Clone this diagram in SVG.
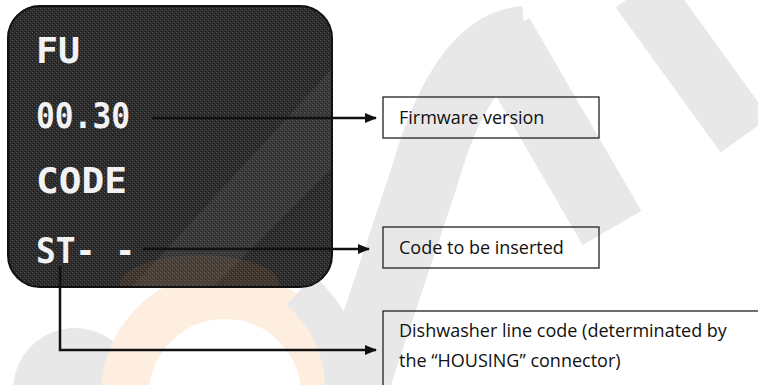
<svg xmlns="http://www.w3.org/2000/svg" width="758" height="385" viewBox="0 0 758 385">
  <defs>
    <marker id="ah" markerWidth="12" markerHeight="10" refX="11" refY="5" orient="auto" markerUnits="userSpaceOnUse">
      <path d="M0,0 L12,5 L0,10 Z" fill="#111"/>
    </marker>
    <clipPath id="panelClip">
      <rect x="8" y="6" width="324" height="281" rx="32" ry="32"/>
    </clipPath>
    <pattern id="grain" width="4" height="4" patternUnits="userSpaceOnUse">
      <rect width="4" height="4" fill="#2c2c2c"/>
      <rect x="0" y="0" width="1" height="1" fill="#555"/>
      <rect x="2" y="2" width="1" height="1" fill="#4a4a4a"/>
      <rect x="1" y="3" width="1" height="1" fill="#1a1a1a"/>
      <rect x="3" y="1" width="1" height="1" fill="#1e1e1e"/>
    </pattern>
  </defs>
  <style>
    .wm { fill: none; stroke: #e8e8e8; }
    .wmo { fill: none; stroke: #fdeee0; }
    .seg { font-family: "DejaVu Sans Mono", monospace; font-weight: bold; font-size: 35px; fill: #f2f2f2; }
    .box { fill: none; stroke: #222; stroke-width: 1.3; }
    .lbl { font-family: "Open Sans", "Liberation Sans", sans-serif; font-size: 18px; fill: #111; }
    .conn { fill: none; stroke: #111; stroke-width: 2.5; }
  </style>

  <rect width="758" height="385" fill="#fff"/>

  <!-- faint background watermark -->
  <g id="watermark">
    <path class="wm" stroke-width="68" d="M 350 400 L 425 175 Q 462 45 525 40"/>
    <path class="wm" stroke-width="68" d="M 500 35 L 612 228"/>
    <path class="wm" stroke-width="60" d="M 640 -10 L 745 135"/>
    <circle cx="75" cy="390" r="62" fill="#e8e8e8"/>
    <circle cx="225" cy="395" r="100" class="wmo" stroke-width="48"/>
    <path class="wm" stroke-width="40" d="M 300 290 Q 345 330 345 390"/>
  </g>

  <!-- display panel -->
  <g id="display">
    <rect x="8" y="6" width="324" height="281" rx="32" ry="32" fill="url(#grain)"/>
    <g clip-path="url(#panelClip)">
      <path d="M 120 300 L 340 60 L 340 160 L 200 300 Z" fill="#777" opacity="0.18"/>
      <ellipse cx="200" cy="285" rx="80" ry="30" fill="#9a6a40" opacity="0.18"/>
    </g>
    <rect x="8" y="6" width="324" height="281" rx="32" ry="32" fill="none" stroke="#111" stroke-width="2"/>
    <text class="seg" x="36" y="63" textLength="44" lengthAdjust="spacingAndGlyphs">FU</text>
    <text class="seg" x="36" y="128" textLength="94" lengthAdjust="spacingAndGlyphs">00.30</text>
    <text class="seg" x="36" y="193" textLength="91" lengthAdjust="spacingAndGlyphs">CODE</text>
    <text class="seg" x="36" y="263" textLength="99" lengthAdjust="spacingAndGlyphs">ST- -</text>
  </g>

  <!-- label boxes -->
  <g id="firmware-version">
    <rect class="box" x="383" y="97" width="216" height="41"/>
    <text class="lbl" x="399" y="124">Firmware version</text>
  </g>
  <g id="code-to-be-inserted">
    <rect class="box" x="383" y="227" width="216" height="41"/>
    <text class="lbl" x="399" y="254">Code to be inserted</text>
  </g>
  <g id="line-code">
    <rect class="box" x="383" y="311" width="390" height="100"/>
    <text class="lbl" x="399" y="337">Dishwasher line code (determinated by</text>
    <text class="lbl" x="399" y="367">the “HOUSING” connector)</text>
  </g>

  <!-- connectors -->
  <g id="connectors">
    <path class="conn" d="M 152 118 L 376 118" marker-end="url(#ah)"/>
    <path class="conn" d="M 143 249 L 369 249" marker-end="url(#ah)"/>
    <path class="conn" d="M 60 266 L 60 350 L 376 350" marker-end="url(#ah)"/>
  </g>
</svg>
